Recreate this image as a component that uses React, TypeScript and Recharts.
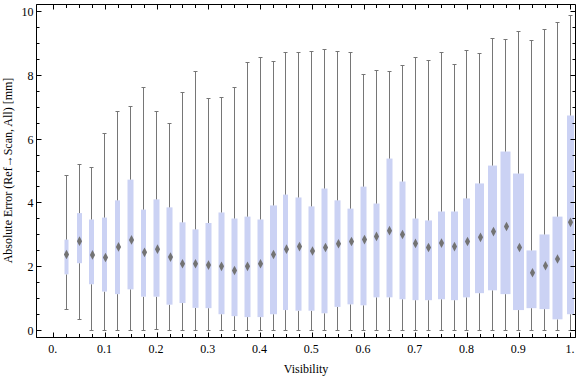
import React from 'react';
import { ComposedChart, Bar, Scatter, XAxis, YAxis, ReferenceArea } from 'recharts';

// ---- data ----
const visibility = [
  0.025, 0.05, 0.075, 0.1, 0.125, 0.15, 0.175, 0.2, 0.225, 0.25,
  0.275, 0.3, 0.325, 0.35, 0.375, 0.4, 0.425, 0.45, 0.475, 0.5,
  0.525, 0.55, 0.575, 0.6, 0.625, 0.65, 0.675, 0.7, 0.725, 0.75,
  0.775, 0.8, 0.825, 0.85, 0.875, 0.9, 0.925, 0.95, 0.975, 1.0,
];
const whiskerLow = [
  0.65, 0.34, 0, 0, 0, 0, 0, 0.03, 0, 0,
  0, 0, 0, 0, 0, 0, 0, 0, 0, 0,
  0, 0, 0, 0, 0, 0, 0, 0, 0, 0,
  0, 0, 0, 0, 0, 0, 0, 0, 0, 0,
];
const quartile1 = [
  1.76, 2.11, 1.45, 1.22, 1.14, 1.29, 1.06, 1.06, 0.81, 0.86,
  0.71, 0.70, 0.51, 0.45, 0.42, 0.42, 0.51, 0.64, 0.62, 0.62,
  0.54, 0.74, 0.82, 0.79, 1.04, 1.04, 0.98, 0.95, 0.95, 0.98,
  0.95, 1.04, 1.17, 1.26, 1.14, 0.64, 0.70, 0.67, 0.35, 0.51,
];
const medianError = [
  2.38, 2.80, 2.37, 2.29, 2.62, 2.84, 2.45, 2.55, 2.30, 2.09,
  2.09, 2.05, 2.01, 1.88, 2.01, 2.09, 2.38, 2.55, 2.63, 2.49,
  2.60, 2.72, 2.79, 2.85, 2.95, 3.13, 3.01, 2.73, 2.60, 2.74,
  2.63, 2.79, 2.92, 3.10, 3.26, 2.60, 1.81, 2.03, 2.24, 3.39,
];
const quartile3 = [
  2.85, 3.68, 3.48, 3.54, 4.08, 4.73, 3.79, 4.11, 3.86, 3.39,
  3.17, 3.37, 3.70, 3.51, 3.57, 3.48, 3.92, 4.26, 4.17, 3.89,
  4.45, 4.08, 3.82, 4.51, 3.98, 5.39, 4.67, 3.51, 3.45, 3.73,
  3.73, 4.14, 4.61, 5.17, 5.61, 4.92, 2.51, 3.01, 3.57, 6.74,
];
const whiskerHigh = [
  4.86, 5.20, 5.11, 6.17, 6.86, 7.02, 7.61, 6.86, 6.48, 7.45,
  8.11, 7.26, 7.29, 7.61, 8.39, 8.55, 8.42, 8.71, 8.71, 8.74,
  8.80, 8.74, 8.71, 8.02, 8.14, 8.11, 8.30, 8.55, 8.45, 8.71,
  8.33, 8.77, 8.67, 9.14, 9.11, 9.36, 9.08, 9.45, 9.65, 9.87,
];
// relative sample weight of each bin (drives the box width)
const relativeCount = [
  4, 5, 5, 5, 5, 6, 5, 6, 6, 6,
  6, 6, 6, 6, 6, 6, 7, 5, 6, 6,
  6, 6, 6, 6, 6, 6, 6, 6, 7, 7,
  7, 7, 9, 9, 10, 11, 10, 10, 10, 7,
];

const xMajorTicks = [0, 0.1, 0.2, 0.3, 0.4, 0.5, 0.6, 0.7, 0.8, 0.9, 1];
const xTickLabels = ['0.', '0.1', '0.2', '0.3', '0.4', '0.5', '0.6', '0.7', '0.8', '0.9', '1.'];
const yMajorTicks = [0, 2, 4, 6, 8, 10];
const yTickLabels = ['0', '2', '4', '6', '8', '10'];
const X_MINOR_STEP = 0.025;
const Y_MINOR_STEP = 0.5;

const xAllTicks = Array.from({ length: 41 }, (_, i) => Math.round(i * X_MINOR_STEP * 1000) / 1000);
const yAllTicks = Array.from({ length: 21 }, (_, i) => i * Y_MINOR_STEP);

const data = visibility.map((v, i) => ({
  v,
  base: whiskerLow[i],
  lowSeg: quartile1[i] - whiskerLow[i],
  box: quartile3[i] - quartile1[i],
  highSeg: whiskerHigh[i] - quartile3[i],
  median: medianError[i],
  weight: relativeCount[i],
}));

// ---- layout & styles ----
const W = 576;
const H = 377;
const MARGIN = { top: 4.5, right: 0.5, bottom: 0, left: 0 };
const Y_AXIS_W = 36.5;
const X_AXIS_H = 39.5;
const PLOT_TOP = MARGIN.top;
const PLOT_RIGHT = W - MARGIN.right;

const FONT = '"Liberation Serif", "Times New Roman", serif';
const WHISKER = '#767676';
const BOX_FILL = '#cbd2f4';
const MEDIAN_FILL = '#737373';
const X_DOMAIN: [number, number] = [-0.0332, 1.0089];
const Y_DOMAIN: [number, number] = [-0.22, 10.22];

const snap = (v: number) => Math.round(v - 0.5) + 0.5;
const majorIdx = (v: number, majors: number[]) => majors.findIndex((m) => Math.abs(m - v) < 1e-6);

// bottom axis tick: inward tick on bottom + mirrored tick on top frame
const BottomTick = (p: any) => {
  const { x, y, payload } = p;
  const idx = majorIdx(payload.value, xMajorTicks);
  const len = idx >= 0 ? 5 : 3.5;
  const sx = snap(x);
  return (
    <g>
      <line x1={sx} x2={sx} y1={y} y2={y - len} stroke="#000" />
      <line x1={sx} x2={sx} y1={PLOT_TOP} y2={PLOT_TOP + len} stroke="#000" />
      {idx >= 0 && (
        <text x={x - 1} y={y + 15} textAnchor="middle" fontFamily={FONT} fontSize={12} fill="#000">
          {xTickLabels[idx]}
        </text>
      )}
    </g>
  );
};
// left axis tick: inward tick on left + mirrored tick on right frame
const LeftTick = (p: any) => {
  const { x, y, payload } = p;
  const idx = majorIdx(payload.value, yMajorTicks);
  const len = idx >= 0 ? 5 : 3;
  const sy = snap(y);
  return (
    <g>
      <line x1={x} x2={x + len} y1={sy} y2={sy} stroke="#000" />
      <line x1={PLOT_RIGHT} x2={PLOT_RIGHT - len} y1={sy} y2={sy} stroke="#000" />
      {idx >= 0 && (
        <text x={x - 3} y={y + 4.5} textAnchor="end" fontFamily={FONT} fontSize={12} fill="#000">
          {yTickLabels[idx]}
        </text>
      )}
    </g>
  );
};

const LowerWhisker = (p: any) => {
  const { x, y, width, height } = p;
  if (x == null || y == null) return null;
  const cx = snap(x + width / 2);
  const bottom = y + height;
  return (
    <g>
      <line x1={cx} x2={cx} y1={y} y2={bottom} stroke={WHISKER} />
      <line x1={cx - 2} x2={cx + 2} y1={snap(bottom)} y2={snap(bottom)} stroke={WHISKER} />
    </g>
  );
};
const UpperWhisker = (p: any) => {
  const { x, y, width, height } = p;
  if (x == null || y == null) return null;
  const cx = snap(x + width / 2);
  return (
    <g>
      <line x1={cx} x2={cx} y1={y} y2={y + height} stroke={WHISKER} />
      <line x1={cx - 2} x2={cx + 2} y1={snap(y)} y2={snap(y)} stroke={WHISKER} />
    </g>
  );
};
const BoxShape = (p: any) => {
  const { x, y, width, height, payload } = p;
  if (x == null || y == null) return null;
  const cx = snap(x + width / 2);
  const w = payload.weight;
  return <rect x={cx - w / 2} y={y} width={w} height={height} fill={BOX_FILL} />;
};
const MedianShape = (p: any) => {
  const { cx, cy } = p;
  if (cx == null || cy == null) return null;
  const x0 = snap(cx);
  const hw = 2.6;
  const hh = 4.8;
  return (
    <polygon
      points={`${x0},${cy - hh} ${x0 + hw},${cy} ${x0},${cy + hh} ${x0 - hw},${cy}`}
      fill={MEDIAN_FILL}
    />
  );
};

const YLabel = () => (
  <text
    x={12}
    y={170.5}
    transform="rotate(-90, 12, 170.5)"
    textAnchor="middle"
    fontFamily={FONT}
    fontSize={12}
    fill="#000"
  >
    Absolute Error (Ref→Scan, All) [mm]
  </text>
);

export default function App() {
  return (
    <div style={{ position: 'absolute', left: 0, top: 0, width: W, height: H, background: '#fff' }}>
      <ComposedChart width={W} height={H} data={data} margin={MARGIN}>
        <XAxis
          dataKey="v"
          type="number"
          domain={X_DOMAIN}
          allowDataOverflow
          ticks={xAllTicks}
          interval={0}
          height={X_AXIS_H}
          tickSize={0}
          tickMargin={0}
          tickLine={false}
          axisLine={{ stroke: '#000' }}
          tick={BottomTick}
          label={{
            value: 'Visibility',
            position: 'insideBottom',
            offset: 4.5,
            style: { fontFamily: FONT, fontSize: 12, fill: '#000' },
          }}
        />
        <YAxis
          type="number"
          domain={Y_DOMAIN}
          allowDataOverflow
          ticks={yAllTicks}
          interval={0}
          width={Y_AXIS_W}
          tickSize={0}
          tickMargin={0}
          tickLine={false}
          axisLine={{ stroke: '#000' }}
          tick={LeftTick}
          label={<YLabel />}
        />
        <ReferenceArea
          x1={X_DOMAIN[0]}
          x2={X_DOMAIN[1]}
          y1={Y_DOMAIN[0]}
          y2={Y_DOMAIN[1]}
          fill="none"
          fillOpacity={0}
          stroke="#000"
          strokeWidth={1}
          ifOverflow="visible"
        />
        <Bar dataKey="base" stackId="bw" fill="none" barSize={10} isAnimationActive={false} />
        <Bar dataKey="lowSeg" stackId="bw" barSize={10} shape={LowerWhisker} isAnimationActive={false} />
        <Bar dataKey="box" stackId="bw" barSize={10} shape={BoxShape} isAnimationActive={false} />
        <Bar dataKey="highSeg" stackId="bw" barSize={10} shape={UpperWhisker} isAnimationActive={false} />
        <Scatter dataKey="median" shape={MedianShape} isAnimationActive={false} />
      </ComposedChart>
    </div>
  );
}
